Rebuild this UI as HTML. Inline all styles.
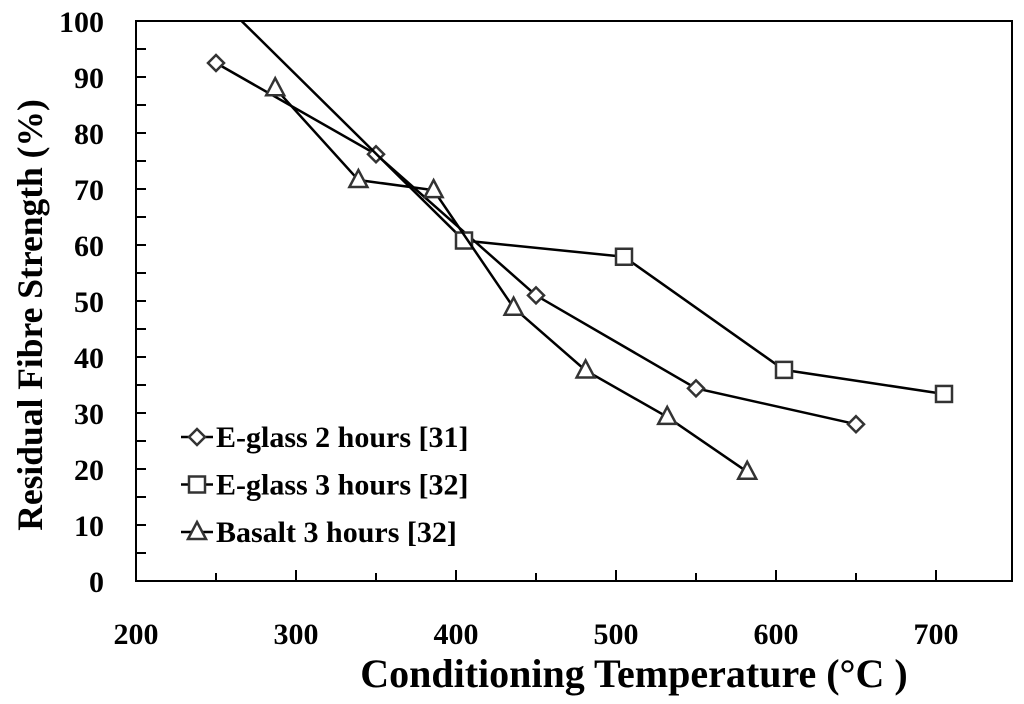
<!DOCTYPE html>
<html><head><meta charset="utf-8"><style>
body{margin:0;background:#fff;}
svg{display:block;font-family:"Liberation Serif",serif;font-weight:bold;}
</style></head><body>
<svg id="chart" width="1024" height="704" viewBox="0 0 1024 704">
<defs><clipPath id="plotclip"><rect x="136" y="21" width="876" height="560"/></clipPath></defs>
<g id="axes"></g>
<g id="series" clip-path="url(#plotclip)"></g>
<g id="legend"></g>
<text x="634" y="687" font-size="40" text-anchor="middle">Conditioning Temperature (°C )</text>
<text transform="translate(42,315) rotate(-90)" font-size="35.5" text-anchor="middle">Residual Fibre Strength (%)</text>
</svg>
<script>
const xTicks=[200,300,400,500,600,700];
const yTicks=[0,10,20,30,40,50,60,70,80,90,100];
const eg2T=[250,350,450,550,650];
const eg2V=[92.5,76.2,51,34.4,28];
const eg3T=[250,405,505,605,705];
const eg3V=[104.5,60.8,57.9,37.7,33.4];
const baT=[287,339,386,436,481,532,582];
const baV=[88,71.6,69.8,48.8,37.6,29.3,19.5];
const names=["E-glass 2 hours [31]","E-glass 3 hours [32]","Basalt 3 hours [32]"];

const L=136,R=1012,T=21,B=581;
const xs=v=>L+(v-200)*1.6;
const ys=v=>B-v*5.6;
const NS="http://www.w3.org/2000/svg";
function mk(tag,attrs,parent){const e=document.createElementNS(NS,tag);for(const k in attrs)e.setAttribute(k,attrs[k]);parent.appendChild(e);return e;}
const ax=document.getElementById('axes'),sg=document.getElementById('series'),lg=document.getElementById('legend');
let f=mk('rect',{x:L,y:T,width:R-L,height:B-T,fill:'none',stroke:'#000','stroke-width':2},ax);


for(let v=0;v<=100;v+=5){
  const t=mk('line',{x1:L,x2:L+10,y1:ys(v),y2:ys(v),stroke:'#000','stroke-width':2},ax);
  
  
}
yTicks.forEach(v=>{
  const t=mk('text',{x:104,y:ys(v)+11,'font-size':30,'text-anchor':'end'},ax);t.textContent=v;
  
  
});
for(let v=250;v<=700;v+=50){
  const h=(v%100===0)?11:8;
  const t=mk('line',{x1:xs(v),x2:xs(v),y1:B,y2:B-h,stroke:'#000','stroke-width':2},ax);
  
  
}
xTicks.forEach(v=>{
  const t=mk('text',{x:xs(v),y:644,'font-size':30,'text-anchor':'middle'},ax);t.textContent=v;
  
  
});
function marker(type,x,y,parent){
  let e;
  if(type==='d')e=mk('polygon',{points:`${x},${y-8} ${x+8},${y} ${x},${y+8} ${x-8},${y}`,fill:'#fff',stroke:'#333','stroke-width':2.5},parent);
  else if(type==='s')e=mk('rect',{x:x-8,y:y-8,width:16,height:16,fill:'#fff',stroke:'#333','stroke-width':2.5},parent);
  else e=mk('polygon',{points:`${x},${y-10} ${x+9},${y+7} ${x-9},${y+7}`,fill:'#fff',stroke:'#333','stroke-width':2.5},parent);
  return e;
}
function series(T2,V,type,name){
  const g=mk('g',{},sg);
  
  
  const pl=mk('polyline',{points:T2.map((t,i)=>xs(t)+','+ys(V[i])).join(' '),fill:'none',stroke:'#000','stroke-width':2.5},g);
  
  
  T2.forEach((t,i)=>{
    const m=marker(type,xs(t),ys(V[i]),g);
    
    
  });
}
series(eg2T,eg2V,'d','e-glass-2h-series');
series(eg3T,eg3V,'s','e-glass-3h-series');
series(baT,baV,'t','basalt-3h-series');
const types=['d','s','t'];
names.forEach((n,i)=>{
  const y=437+i*47.5;
  const g=mk('g',{},lg);
  
  
  mk('line',{x1:181,x2:213,y1:y,y2:y,stroke:'#000','stroke-width':2.5},g);
  marker(types[i],197,y,g);
  const t=mk('text',{x:216,y:y+10,'font-size':30},g);t.textContent=n;
});
</script>
</body></html>
